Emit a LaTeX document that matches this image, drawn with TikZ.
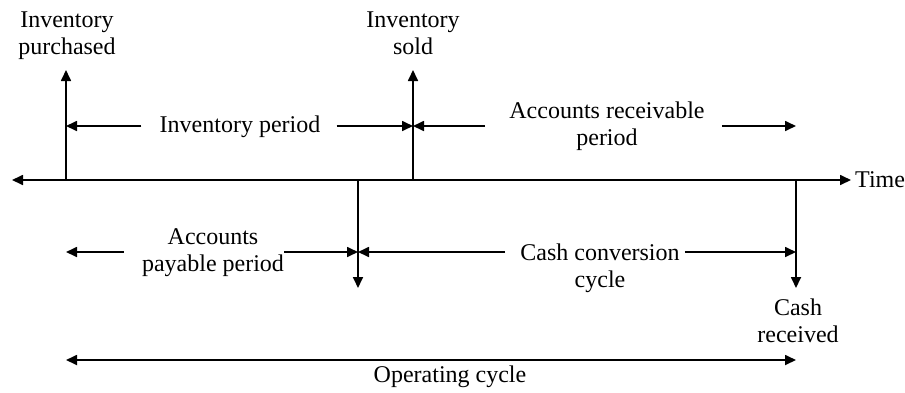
\documentclass[tikz,border=0pt]{standalone}
\usepackage{fontspec}
\setmainfont{Liberation Serif}
\usetikzlibrary{arrows.meta,calc}
\begin{document}
\begin{tikzpicture}[x=1pt,y=-1pt,
  tip/.tip={Triangle[length=11pt,width=10pt]},
  ln/.style={line width=1.7pt,-tip},
  dbl/.style={line width=1.7pt,tip-tip},
  lbl/.style={font=\fontsize{24}{27}\selectfont,align=center,inner sep=0pt}]
\useasboundingbox (0,0) rectangle (905,392);
% key coordinates
\coordinate (axL) at (12,180);
\coordinate (axR) at (851,180);
\coordinate (b1) at (66,180);  \coordinate (t1) at (66,70);
\coordinate (b2) at (413,180); \coordinate (t2) at (413,70);
\coordinate (b3) at (358,180); \coordinate (t3) at (358,288);
\coordinate (b4) at (796,180); \coordinate (t4) at (796,288);
\coordinate (p1) at (66,126);  \coordinate (p2) at (413,126); \coordinate (p3) at (796,126);
\coordinate (q1) at (66,252);  \coordinate (q2) at (358,252); \coordinate (q3) at (796,252);
\coordinate (o1) at (66,360);  \coordinate (o2) at (796,360);
% labels
\node[lbl] (ipur) at (67,36) {Inventory\\purchased};
\node[lbl] (isold) at (413,33.5) {Inventory\\sold};
\node[lbl,anchor=base] (ip) at (240,132) {Inventory period};
\node[lbl] (arp) at (607,126) {Accounts receivable\\period};
\node[lbl,anchor=base west] (time) at (855,187) {Time};
\node[lbl] (app) at (213,253) {Accounts\\payable period};
\node[lbl] (ccc) at (600,268) {Cash conversion\\cycle};
\node[lbl] (cash) at (798,320.5) {Cash\\received};
\node[lbl,anchor=base] (opc) at (450,382) {Operating cycle};
% axis and event arrows
\draw[dbl] (axL) -- (axR);
\draw[ln] (b1) -- (t1);
\draw[ln] (b2) -- (t2);
\draw[ln] (b3) -- (t3);
\draw[ln] (b4) -- (t4);
% period arrows
\draw[ln] ($(ip.west|-p1)+(-18,0)$) -- (p1);
\draw[ln] ($(ip.east|-p2)+(16,0)$) -- (p2);
\draw[ln] ($(arp.west|-p2)+(-24,0)$) -- (p2);
\draw[ln] ($(arp.east|-p3)+(17,0)$) -- (p3);
\draw[ln] ($(app.west|-q1)+(-18,0)$) -- (q1);
\draw[ln] ($(app.east|-q2)+(0,0)$) -- (q2);
\draw[ln] ($(ccc.west|-q2)+(-15,0)$) -- (q2);
\draw[ln] ($(ccc.east|-q3)+(5,0)$) -- (q3);
\draw[dbl] (o1) -- (o2);
\end{tikzpicture}
\end{document}
